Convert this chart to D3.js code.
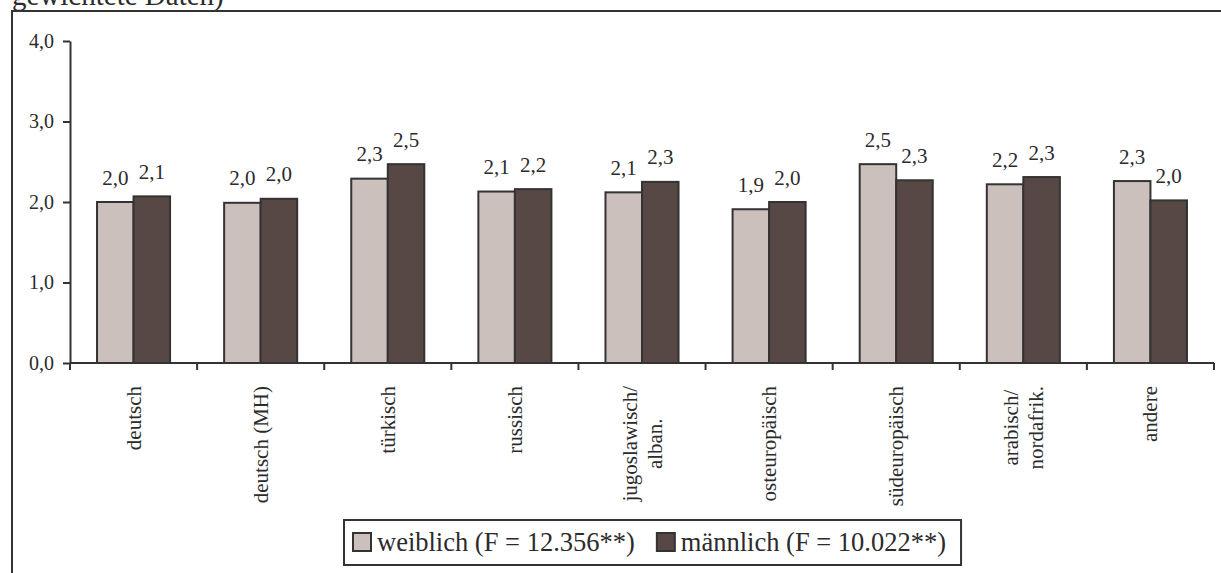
<!DOCTYPE html>
<html lang="de">
<head>
<meta charset="UTF-8">
<title>Mittelwerte nach Herkunft und Geschlecht</title>
<style>
  body { margin: 0; background: #fff; }
  svg text { font-family: "Liberation Serif", "Times New Roman", serif; fill: #2b2b2b; }
</style>
</head>
<body>
<svg id="chart" width="1221" height="573"></svg>
<script src="https://cdn.jsdelivr.net/npm/d3@7"></script>
<script>
// data
var categories = ["deutsch", "deutsch (MH)", "türkisch", "russisch", "jugoslawisch/\nalban.",
                  "osteuropäisch", "südeuropäisch", "arabisch/\nnordafrik.", "andere"];
var weiblich = [2.00, 1.99, 2.29, 2.13, 2.12, 1.91, 2.47, 2.22, 2.26];
var maennlich = [2.07, 2.04, 2.47, 2.16, 2.25, 2.00, 2.27, 2.31, 2.02];
var seriesNames = ["weiblich (F = 12.356**)", "männlich (F = 10.022**)"];
var seriesColors = ["#cbc0bc", "#574845"];
var yTicks = [0, 1, 2, 3, 4];

var svg = d3.select("#chart");
var ink = "#333";

var comma = d3.formatLocale({ decimal: ",", thousands: ".", grouping: [3], currency: ["", "€"] }).format(".1f");

// surrounding text + frame of the figure
svg.append("text")
    .attr("x", 12).attr("y", 5)
    .style("font-size", "29px")
    .text("gewichtete Daten)");

svg.append("rect")
    .attr("x", 12).attr("y", 11)
    .attr("width", 1400).attr("height", 800)
    .attr("fill", "none").attr("stroke", ink).attr("stroke-width", 2);

var x0 = d3.scaleBand().domain(categories).range([70, 1214]).padding(0);
var x1 = d3.scaleBand().domain([0, 1]).range([0, x0.bandwidth()]).paddingInner(0).paddingOuter(0.74);
var y = d3.scaleLinear().domain([0, 4]).range([363, 41]);

// y axis
var yAxis = svg.append("g")
    .attr("transform", "translate(70,0)")
    .call(d3.axisLeft(y).tickValues(yTicks).tickFormat(comma).tickSize(7).tickSizeOuter(0).tickPadding(9));
yAxis.select(".domain").attr("stroke", ink).attr("stroke-width", 2);
yAxis.selectAll(".tick line").attr("stroke", ink).attr("stroke-width", 2);
yAxis.selectAll(".tick text").style("font-size", "20px").attr("fill", "#2b2b2b")
    .attr("font-family", null);

// bars
var rows = categories.map(function (c, i) { return { cat: c, vals: [weiblich[i], maennlich[i]] }; });

var groups = svg.selectAll(".group")
    .data(rows)
    .enter().append("g")
    .attr("class", "group")
    .attr("transform", function (d) { return "translate(" + x0(d.cat) + ",0)"; });

groups.selectAll("rect")
    .data(function (d) { return d.vals.map(function (v, k) { return { k: k, v: v }; }); })
    .enter().append("rect")
    .attr("x", function (d) { return x1(d.k); })
    .attr("width", x1.bandwidth())
    .attr("y", function (d) { return y(d.v); })
    .attr("height", function (d) { return y(0) - y(d.v); })
    .attr("fill", function (d) { return seriesColors[d.k]; })
    .attr("stroke", ink).attr("stroke-width", 2);

groups.selectAll(".vlabel")
    .data(function (d) { return d.vals.map(function (v, k) { return { k: k, v: v }; }); })
    .enter().append("text")
    .attr("class", "vlabel")
    .attr("x", function (d) { return x1(d.k) + x1.bandwidth() / 2; })
    .attr("y", function (d) { return y(d.v) - 17.5; })
    .attr("text-anchor", "middle")
    .style("font-size", "21px")
    .text(function (d) { return comma(d.v); });

// x axis with ticks between the categories
var xAxis = svg.append("g");
xAxis.append("line")
    .attr("x1", x0.range()[0]).attr("x2", x0.range()[1])
    .attr("y1", y(0)).attr("y2", y(0))
    .attr("stroke", ink).attr("stroke-width", 2);
var edges = categories.map(function (c) { return x0(c); }).concat([x0.range()[1]]);
xAxis.selectAll(".xtick")
    .data(edges)
    .enter().append("line")
    .attr("class", "xtick")
    .attr("x1", function (d) { return d; }).attr("x2", function (d) { return d; })
    .attr("y1", y(0)).attr("y2", y(0) + 7)
    .attr("stroke", ink).attr("stroke-width", 2);

// rotated category labels
var labelTop = 386, lineGap = 25;
categories.forEach(function (c) {
    var lines = c.split("\n");
    var cx = x0(c) + x0.bandwidth() / 2;
    var g = svg.append("g");
    var texts = lines.map(function (l) {
        return g.append("text").style("font-size", "21px").text(l);
    });
    var maxLen = d3.max(texts, function (t) { return t.node().getComputedTextLength(); });
    texts.forEach(function (t, i) {
        var base = cx + 7 + (i - (lines.length - 1) / 2) * lineGap;
        if (lines.length === 1) {
            t.attr("text-anchor", "end")
             .attr("transform", "translate(" + base + "," + labelTop + ") rotate(-90)");
        } else {
            t.attr("text-anchor", "middle")
             .attr("transform", "translate(" + base + "," + (labelTop + maxLen / 2) + ") rotate(-90)");
        }
    });
});

// legend
var legend = svg.append("g");
var lx = 353, ly = 533, sw = 18;
var box = legend.append("rect")
    .attr("fill", "#fff").attr("stroke", ink).attr("stroke-width", 2);
var cursor = lx, lastEnd = lx;
seriesNames.forEach(function (name, k) {
    legend.append("rect")
        .attr("x", cursor).attr("y", ly)
        .attr("width", sw).attr("height", sw)
        .attr("fill", seriesColors[k]).attr("stroke", ink).attr("stroke-width", 2);
    var t = legend.append("text")
        .attr("x", cursor + sw + 6).attr("y", ly + 18)
        .style("font-size", "26.5px")
        .text(name);
    lastEnd = cursor + sw + 6 + t.node().getComputedTextLength();
    cursor = lastEnd + 22;
});
box.attr("x", 344).attr("y", 520)
   .attr("width", lastEnd + 15 - 344).attr("height", 45);
</script>
</body>
</html>
